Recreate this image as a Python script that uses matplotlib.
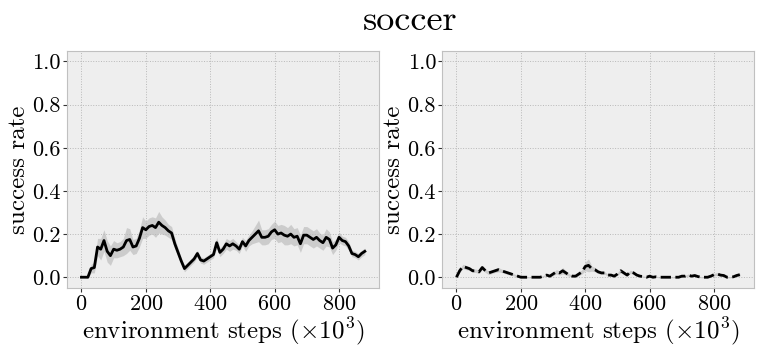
import numpy as np
import matplotlib
matplotlib.use("Agg")
import matplotlib.pyplot as plt

steps = np.arange(0, 890, 10)

left_mean = [0, 0, 0, 0.04, 0.045, 0.14, 0.13, 0.17, 0.12, 0.10,
             0.13, 0.125, 0.13, 0.14, 0.17, 0.175, 0.14, 0.145, 0.18, 0.23,
             0.22, 0.235, 0.24, 0.23, 0.255, 0.24, 0.23, 0.215, 0.205, 0.155,
             0.115, 0.075, 0.04, 0.055, 0.07, 0.085, 0.11, 0.08, 0.075, 0.085,
             0.095, 0.105, 0.16, 0.115, 0.13, 0.155, 0.145, 0.155, 0.145, 0.13,
             0.165, 0.145, 0.17, 0.185, 0.2, 0.215, 0.185, 0.185, 0.19, 0.21,
             0.22, 0.2, 0.205, 0.195, 0.19, 0.2, 0.185, 0.19, 0.155, 0.195,
             0.195, 0.185, 0.175, 0.185, 0.17, 0.16, 0.185, 0.175, 0.135, 0.15,
             0.185, 0.17, 0.165, 0.145, 0.11, 0.105, 0.095, 0.11, 0.12]
left_std = [0, 0, 0.005, 0.02, 0.025,
            0.04, 0.05, 0.05, 0.05, 0.045,
            0.04, 0.035, 0.035, 0.04,
            0.06, 0.05, 0.035, 0.035, 0.04,
            0.05, 0.04, 0.04, 0.04, 0.045, 0.05, 0.04, 0.035, 0.03, 0.03,
            0.025, 0.02, 0.015, 0.015, 0.015, 0.015, 0.015, 0.015, 0.015, 0.015, 0.015, 0.015, 0.015,
            0.025, 0.02, 0.02, 0.025, 0.025, 0.025, 0.02, 0.02, 0.02, 0.025, 0.025, 0.03,
            0.04, 0.05, 0.035, 0.035, 0.035, 0.035, 0.04,
            0.04, 0.04, 0.045, 0.04, 0.045, 0.04, 0.04, 0.04, 0.04, 0.04, 0.04, 0.04, 0.04, 0.035, 0.035, 0.04, 0.035,
            0.03, 0.025, 0.025, 0.02, 0.02, 0.02, 0.015, 0.015, 0.015, 0.015, 0.015]

right_mean = [0, 0.03, 0.05, 0.045, 0.04, 0.03, 0.03, 0.025, 0.045, 0.03,
              0.02, 0.025, 0.03, 0.035, 0.03, 0.025, 0.02, 0.015, 0.01, 0.005,
              0, 0, 0, 0, 0, 0, 0,
              0.005, 0.01, 0.005, 0.015, 0.025, 0.02, 0.03, 0.02, 0.01, 0.005,
              0.005, 0.015, 0.025, 0.05, 0.055, 0.04, 0.035, 0.025, 0.02, 0.02,
              0.01, 0.01, 0.005, 0.015, 0.03, 0.02, 0.01, 0.025, 0.02, 0.01,
              0.005, 0.003, 0, 0.005, 0, 0.002,
              0, 0, 0, 0, 0, 0, 0,
              0.005, 0.005, 0.01, 0.005, 0.008, 0.003, 0, 0, 0, 0.005,
              0.012, 0.015, 0.01, 0.008, 0, 0, 0.002, 0.008, 0.012]
right_std = [0, 0.008, 0.01, 0.01, 0.008, 0.008, 0.008, 0.008, 0.01, 0.008,
             0.008, 0.008, 0.008, 0.01, 0.008, 0.008, 0.008, 0.006, 0.005, 0.004,
             0.003, 0.003, 0.003, 0.003, 0.003, 0.003, 0.003,
             0.004, 0.005, 0.005, 0.008, 0.01, 0.01, 0.015, 0.01, 0.006, 0.005,
             0.005, 0.008, 0.01, 0.02, 0.03, 0.012, 0.01, 0.008, 0.006, 0.006,
             0.005, 0.005, 0.004, 0.006, 0.01, 0.008, 0.005, 0.008, 0.006, 0.005,
             0.004, 0.003, 0.003, 0.003, 0.003, 0.003,
             0.003, 0.003, 0.003, 0.003, 0.003, 0.003, 0.003,
             0.004, 0.004, 0.005, 0.004, 0.005, 0.003, 0.003, 0.003, 0.003, 0.004,
             0.006, 0.007, 0.006, 0.005, 0.003, 0.003, 0.003, 0.005, 0.006]

plt.style.use('bmh')
plt.rcParams['font.family'] = 'serif'
plt.rcParams['font.serif'] = ['cmr10']
plt.rcParams['mathtext.fontset'] = 'cm'
plt.rcParams['axes.formatter.use_mathtext'] = True

fig = plt.figure(figsize=(7.61, 3.55), dpi=100)
ax1 = fig.add_axes([0.0884, 0.1887, 0.4096, 0.6685])
ax2 = fig.add_axes([0.5812, 0.1887, 0.4096, 0.6685])

for ax, m, s, ls in [(ax1, left_mean, left_std, '-'), (ax2, right_mean, right_std, '--')]:
    m = np.array(m)
    s = np.array(s)
    ax.fill_between(steps, m - s, m + s, color='#c4c4c4', alpha=0.8, linewidth=0)
    ax.plot(steps, m, color='black', linestyle=ls, linewidth=2.0)
    ax.set_xlim(-44, 924)
    ax.set_ylim(-0.05, 1.05)
    ax.set_xticks([0, 200, 400, 600, 800])
    ax.set_yticks([0.0, 0.2, 0.4, 0.6, 0.8, 1.0])
    ax.set_yticklabels(['0.0', '0.2', '0.4', '0.6', '0.8', '1.0'])
    ax.tick_params(labelsize=16, direction='out', length=3, width=0.8,
                   colors='#333333', labelcolor='black', pad=1.5)
    ax.grid(True, color='#b8b8b8', linestyle=':', linewidth=0.7)
    ax.set_facecolor('#eeeeee')
    for sp in ax.spines.values():
        sp.set_color('#c0c0c0')
    ax.set_xlabel(r'environment steps $(\times 10^3)$', fontsize=18, labelpad=1)
    ax.set_ylabel('success rate', fontsize=18, labelpad=2)

fig.text(0.539, 0.895, 'soccer', ha='center', va='bottom', fontsize=26)

fig.savefig('out.png', dpi=100)
